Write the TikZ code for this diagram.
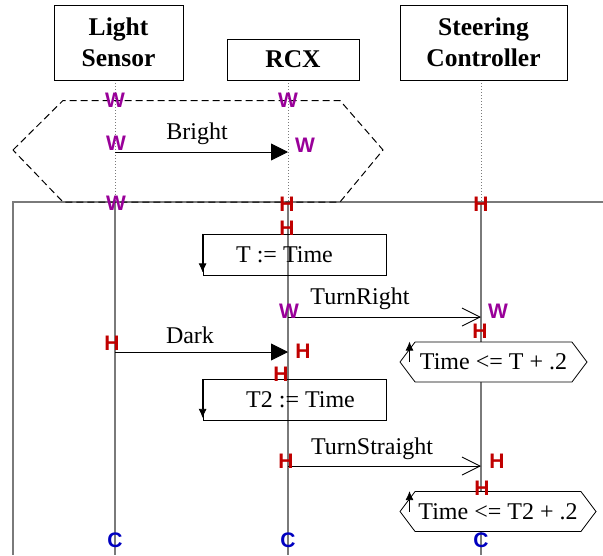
\documentclass[tikz,border=0pt]{standalone}
\usepackage{fontspec}
\setmainfont{Liberation Serif}
\newfontfamily\statefont{Liberation Sans}
\usepackage{tikz}
\usetikzlibrary{arrows.meta,shapes.symbols}
\definecolor{StateWait}{HTML}{990099}
\definecolor{StateHold}{HTML}{C00000}
\definecolor{StateClose}{HTML}{0000C0}
\definecolor{LifeGrey}{HTML}{7A7A7A}
\newcommand{\objectbox}[3]{%
  \node[draw=black,fill=white,line width=0.9pt,align=center,inner sep=0pt,
        font=\bfseries\fontsize{25.5}{31}\selectfont,#3] (#1) {#2};}
\tikzset{
  state/.style={font=\statefont\bfseries\fontsize{21}{21}\selectfont,inner sep=0pt},
  msgtext/.style={font=\fontsize{24}{26}\selectfont,inner sep=0pt},
  actbox/.style={draw=black,line width=0.8pt,font=\fontsize{24}{26}\selectfont,
                 minimum width=183pt,minimum height=41pt,inner sep=0pt},
  guardbox/.style={draw=black,fill=white,line width=0.8pt,signal,signal to=west and east,
                   signal pointer angle=106,font=\fontsize{24}{26}\selectfont,
                   minimum height=40pt,inner sep=0pt},
  syncmsg/.style={-{Triangle[length=17pt,width=17pt]},line width=0.9pt},
  asyncmsg/.style={-{Straight Barb[length=18pt,width=18pt]},line width=0.9pt},
  smallarrow/.style={-{Latex[length=9pt,width=8pt]},line width=0.8pt},
}
\begin{document}
\begin{tikzpicture}[x=1pt,y=-1pt,>=Latex]
  \useasboundingbox (0,0) rectangle (603,555);
  % lifelines
  \foreach \obj/\xx in {sensor/115,rcx/288,steer/481}{
    \coordinate (\obj top) at (\xx,80);
    \coordinate (\obj mid) at (\xx,202);
    \coordinate (\obj end) at (\xx,555);
    \draw[LifeGrey,dotted,line width=1pt] (\obj top) -- (\obj mid);
    \draw[LifeGrey,line width=1.4pt] (\obj mid) -- (\obj end);
  }
  % frames
  \draw[LifeGrey,line width=1.2pt] (603,202) -- (13,202) -- (13,555);
  \draw[black,dash pattern=on 7pt off 4pt,line width=1pt]
    (13,150) -- (63,100.5) -- (340,100.5) -- (383,150) -- (340,202) -- (63,202) -- cycle;
  % objects
  \objectbox{sensor}{Light\\Sensor}{at={(118.5,42.5)},minimum width=129pt,minimum height=75pt}
  \objectbox{rcx}{RCX}{at={(293,59.5)},minimum width=132pt,minimum height=41pt}
  \objectbox{steer}{Steering\\Controller}{at={(483.5,42.5)},minimum width=167pt,minimum height=75pt}
  % actions
  \node[actbox] (tset) at (294.5,254.5) {\hspace*{-20pt}T := Time};
  \draw[smallarrow] (tset.north west) -- ([yshift=3pt]tset.south west);
  \node[actbox] (t2set) at (294.5,400) {\hspace*{12pt}T2 := Time};
  \draw[smallarrow] (t2set.north west) -- ([yshift=3pt]t2set.south west);
  \node[guardbox,minimum width=187pt] (guard) at (493.5,362) {Time <= T + .2};
  \draw[smallarrow] ([xshift=10pt]guard.west) -- ([xshift=10pt]guard.west |- guard.north);
  \node[guardbox,minimum width=196pt] (guardtwo) at (498,511.5) {Time <= T2 + .2};
  \draw[smallarrow] ([xshift=10pt]guardtwo.west) -- ([xshift=10pt]guardtwo.west |- guardtwo.north);
  % messages
  \coordinate (brightA) at (115,152);
  \coordinate (brightB) at (288,152);
  \draw[syncmsg] (brightA) -- (brightB);
  \node[msgtext] (bright) at (197,134) {Bright};
  \coordinate (rightA) at (288,317);
  \coordinate (rightB) at (481,317);
  \draw[asyncmsg] (rightA) -- (rightB);
  \node[msgtext] (turnright) at (360,299) {TurnRight};
  \coordinate (darkA) at (115,352);
  \coordinate (darkB) at (288,352);
  \draw[syncmsg] (darkA) -- (darkB);
  \node[msgtext] (dark) at (190,335) {Dark};
  \coordinate (straightA) at (288,466);
  \coordinate (straightB) at (481,466);
  \draw[asyncmsg] (straightA) -- (straightB);
  \node[msgtext] (turnstraight) at (372,449) {TurnStraight};
  % states
  \node[state,StateWait] (sw1) at (115,100) {W};
  \node[state,StateWait] (rw1) at (288,100) {W};
  \node[state,StateWait] (sw2) at (116,143) {W};
  \node[state,StateWait] (rw2) at (305,145) {W};
  \node[state,StateWait] (sw3) at (116,203) {W};
  \node[state,StateWait] (rw3) at (289,311) {W};
  \node[state,StateWait] (cw1) at (498,311) {W};
  \node[state,StateHold] (rh1) at (287,204) {H};
  \node[state,StateHold] (ch1) at (481,204) {H};
  \node[state,StateHold] (rh2) at (287,228) {H};
  \node[state,StateHold] (ch2) at (480,331) {H};
  \node[state,StateHold] (sh1) at (112,343) {H};
  \node[state,StateHold] (rh3) at (303,351) {H};
  \node[state,StateHold] (rh4) at (281,374) {H};
  \node[state,StateHold] (rh5) at (286,461) {H};
  \node[state,StateHold] (ch3) at (497,461) {H};
  \node[state,StateHold] (ch4) at (482,488) {H};
  \node[state,StateClose] (sc1) at (115,540) {C};
  \node[state,StateClose] (rc1) at (288,540) {C};
  \node[state,StateClose] (cc1) at (481,540) {C};
\end{tikzpicture}
\end{document}
